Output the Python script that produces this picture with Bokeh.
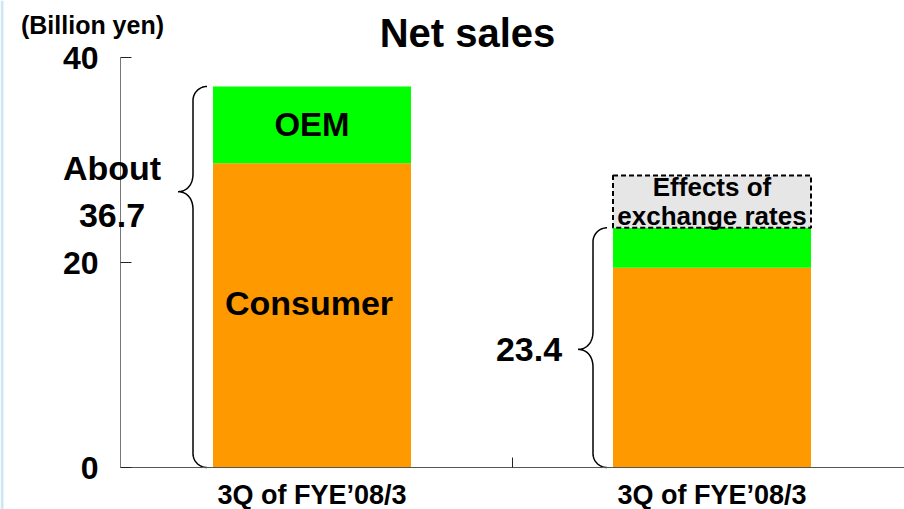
import numpy as np
from bokeh.plotting import figure
from bokeh.models import Range1d, FixedTicker, Label, ColumnDataSource, BoxAnnotation
from bokeh.embed import file_html
from bokeh.resources import INLINE

# ---------------- data ----------------
categories = ["3Q of FYE\u201908/3", "3Q of FYE\u201908/3"]
consumer = [29.7, 19.5]
oem = [7.5, 3.9]
fx_effect = [0.0, 5.1]
total_labels = ["About\n36.7", "23.4"]
y_ticks = [0, 20, 40]
chart_title = "Net sales"
unit_label = "(Billion yen)"

# ---------------- style / geometry ----------------
FONT = "Liberation Sans"
ORANGE = "#FF9900"
GREEN = "#00FF00"
GRAY = "#E6E6E6"

W, H = 904, 509
X_ORIGIN_PX = 111.5      # pixel of x = 0
PX_PER_X = 400.0
Y_ORIGIN_PX = 467.0      # pixel of y = 0
Y_TOP_PX = 57.3          # pixel of y = 40
PX_PER_Y = (Y_ORIGIN_PX - Y_TOP_PX) / 40.0
AXIS_LEFT_PX = 120.0

sx = 1.0 / PX_PER_X
sy = 1.0 / PX_PER_Y


def px2x(px):
    return (px - X_ORIGIN_PX) * sx


def px2y(py):
    return (Y_ORIGIN_PX - py) * sy


x_range = Range1d(px2x(0), px2x(W))
y_range = Range1d(px2y(H), px2y(0))

p = figure(width=W, height=H, x_range=x_range, y_range=y_range,
           output_backend="svg", toolbar_location=None, title=None,
           min_border=0, min_border_left=0, min_border_right=0,
           min_border_top=0, min_border_bottom=0)
p.outline_line_color = None
p.grid.visible = False
p.background_fill_color = "white"
p.border_fill_color = "white"

# thin light-blue slide edge at the far left
p.add_layout(BoxAnnotation(left=0, right=3, left_units="screen", right_units="screen",
                           fill_color="#CFE6F3", fill_alpha=1.0, line_color=None))

n = len(categories)
xs = [i + 0.5 for i in range(n)]
bar_w = 0.495
tops = [c + o for c, o in zip(consumer, oem)]

src = ColumnDataSource(dict(x=xs, consumer=consumer, top=tops))
p.vbar(x="x", width=bar_w, bottom=0, top="consumer", source=src,
       fill_color=ORANGE, line_color=None)
p.vbar(x="x", width=bar_w, bottom="consumer", top="top", source=src,
       fill_color=GREEN, line_color=None)

fx_x = [x for x, f in zip(xs, fx_effect) if f > 0]
fx_b = [t for t, f in zip(tops, fx_effect) if f > 0]
fx_t = [t + f for t, f in zip(tops, fx_effect) if f > 0]
p.vbar(x=fx_x, width=bar_w, bottom=fx_b, top=fx_t, fill_color=GRAY,
       line_color="black", line_width=2, line_dash="5 3")


# ---------------- braces ----------------
def cubic(P0, P1, P2, P3, m=24):
    t = np.linspace(0, 1, m)[:, None]
    P0, P1, P2, P3 = map(np.array, (P0, P1, P2, P3))
    return (1 - t) ** 3 * P0 + 3 * (1 - t) ** 2 * t * P1 + 3 * (1 - t) * t ** 2 * P2 + t ** 3 * P3


def brace(left, bottom, top, ytip):
    xe = left - 6 * sx
    xv = left - 20 * sx
    xt = left - 35 * sx
    r = 14 * sy
    rt = 18 * sy
    parts = [
        cubic((xe, top), (xv + 0.45 * (xe - xv), top), (xv, top - 0.45 * r), (xv, top - r)),
        np.array([(xv, top - r), (xv, ytip + rt)]),
        cubic((xv, ytip + rt), (xv, ytip + 0.35 * rt), (xt + 0.55 * (xv - xt), ytip), (xt, ytip)),
        cubic((xt, ytip), (xt + 0.55 * (xv - xt), ytip), (xv, ytip - 0.35 * rt), (xv, ytip - rt)),
        np.array([(xv, ytip - rt), (xv, bottom + r)]),
        cubic((xv, bottom + r), (xv, bottom + 0.45 * r), (xv + 0.45 * (xe - xv), bottom), (xe, bottom)),
    ]
    pts = np.vstack(parts)
    return pts[:, 0], pts[:, 1], xt


tip_frac = [0.724, 0.493]
label_dx = [-66, -49]
for i in range(n):
    left = xs[i] - bar_w / 2
    ytip = tops[i] * tip_frac[i]
    bx, by, xt = brace(left, 0, tops[i], ytip)
    p.line(bx, by, line_color="black", line_width=1.5)
    p.add_layout(Label(x=xt + label_dx[i] * sx, y=ytip, text=total_labels[i],
                       text_align="center", text_baseline="middle",
                       text_font=FONT, text_font_style="bold",
                       text_font_size="34px", text_line_height=1.22,
                       text_color="black"))

# segment labels on first bar
p.add_layout(Label(x=xs[0], y=consumer[0] + oem[0] / 2, text="OEM",
                   text_align="center", text_baseline="middle", text_font=FONT,
                   text_font_style="bold", text_font_size="33px", text_color="black"))
p.add_layout(Label(x=xs[0] - 3 * sx, y=consumer[0] / 2 + 12 * sy, text="Consumer",
                   text_align="center", text_baseline="middle", text_font=FONT,
                   text_font_style="bold", text_font_size="34px", text_color="black"))
for x, b, t in zip(fx_x, fx_b, fx_t):
    p.add_layout(Label(x=x, y=(b + t) / 2, text="Effects of\nexchange rates",
                       text_align="center", text_baseline="middle", text_font=FONT,
                       text_font_style="bold", text_font_size="26px",
                       text_line_height=0.98, text_color="black"))

# title and unit
p.add_layout(Label(x=px2x(467), y=px2y(32), text=chart_title, text_align="center",
                   text_baseline="middle", text_font=FONT, text_font_style="bold",
                   text_font_size="40px", text_color="black"))
p.add_layout(Label(x=px2x(92), y=px2y(24), text=unit_label, text_align="center",
                   text_baseline="middle", text_font=FONT, text_font_style="bold",
                   text_font_size="25px", text_color="black"))

# ---------------- axes ----------------
ya = p.yaxis[0]
ya.fixed_location = px2x(AXIS_LEFT_PX)
ya.bounds = (y_ticks[0], y_ticks[-1])
ya.ticker = FixedTicker(ticks=y_ticks)
ya.major_tick_in = 11
ya.major_tick_out = 0
ya.minor_tick_in = 0
ya.minor_tick_out = 0
ya.axis_line_color = "#777777"
ya.major_tick_line_color = "#222222"
ya.major_label_standoff = 22
ya.major_label_text_font = FONT
ya.major_label_text_font_style = "bold"
ya.major_label_text_font_size = "32px"
ya.major_label_text_color = "black"

xa = p.xaxis[0]
xa.fixed_location = 0
xa.bounds = (px2x(AXIS_LEFT_PX), px2x(W))
xa.ticker = FixedTicker(ticks=xs, minor_ticks=[i + 1.0 for i in range(n - 1)])
xa.major_label_overrides = {x: c for x, c in zip(xs, categories)}
xa.major_tick_in = 0
xa.major_tick_out = 0
xa.minor_tick_in = 10
xa.minor_tick_out = 0
xa.minor_tick_line_color = "#222222"
xa.axis_line_color = "#555555"
xa.major_label_standoff = 12
xa.major_label_text_font = FONT
xa.major_label_text_font_style = "bold"
xa.major_label_text_font_size = "27px"
xa.major_label_text_color = "black"

open("out.html", "w").write(file_html(p, INLINE))
